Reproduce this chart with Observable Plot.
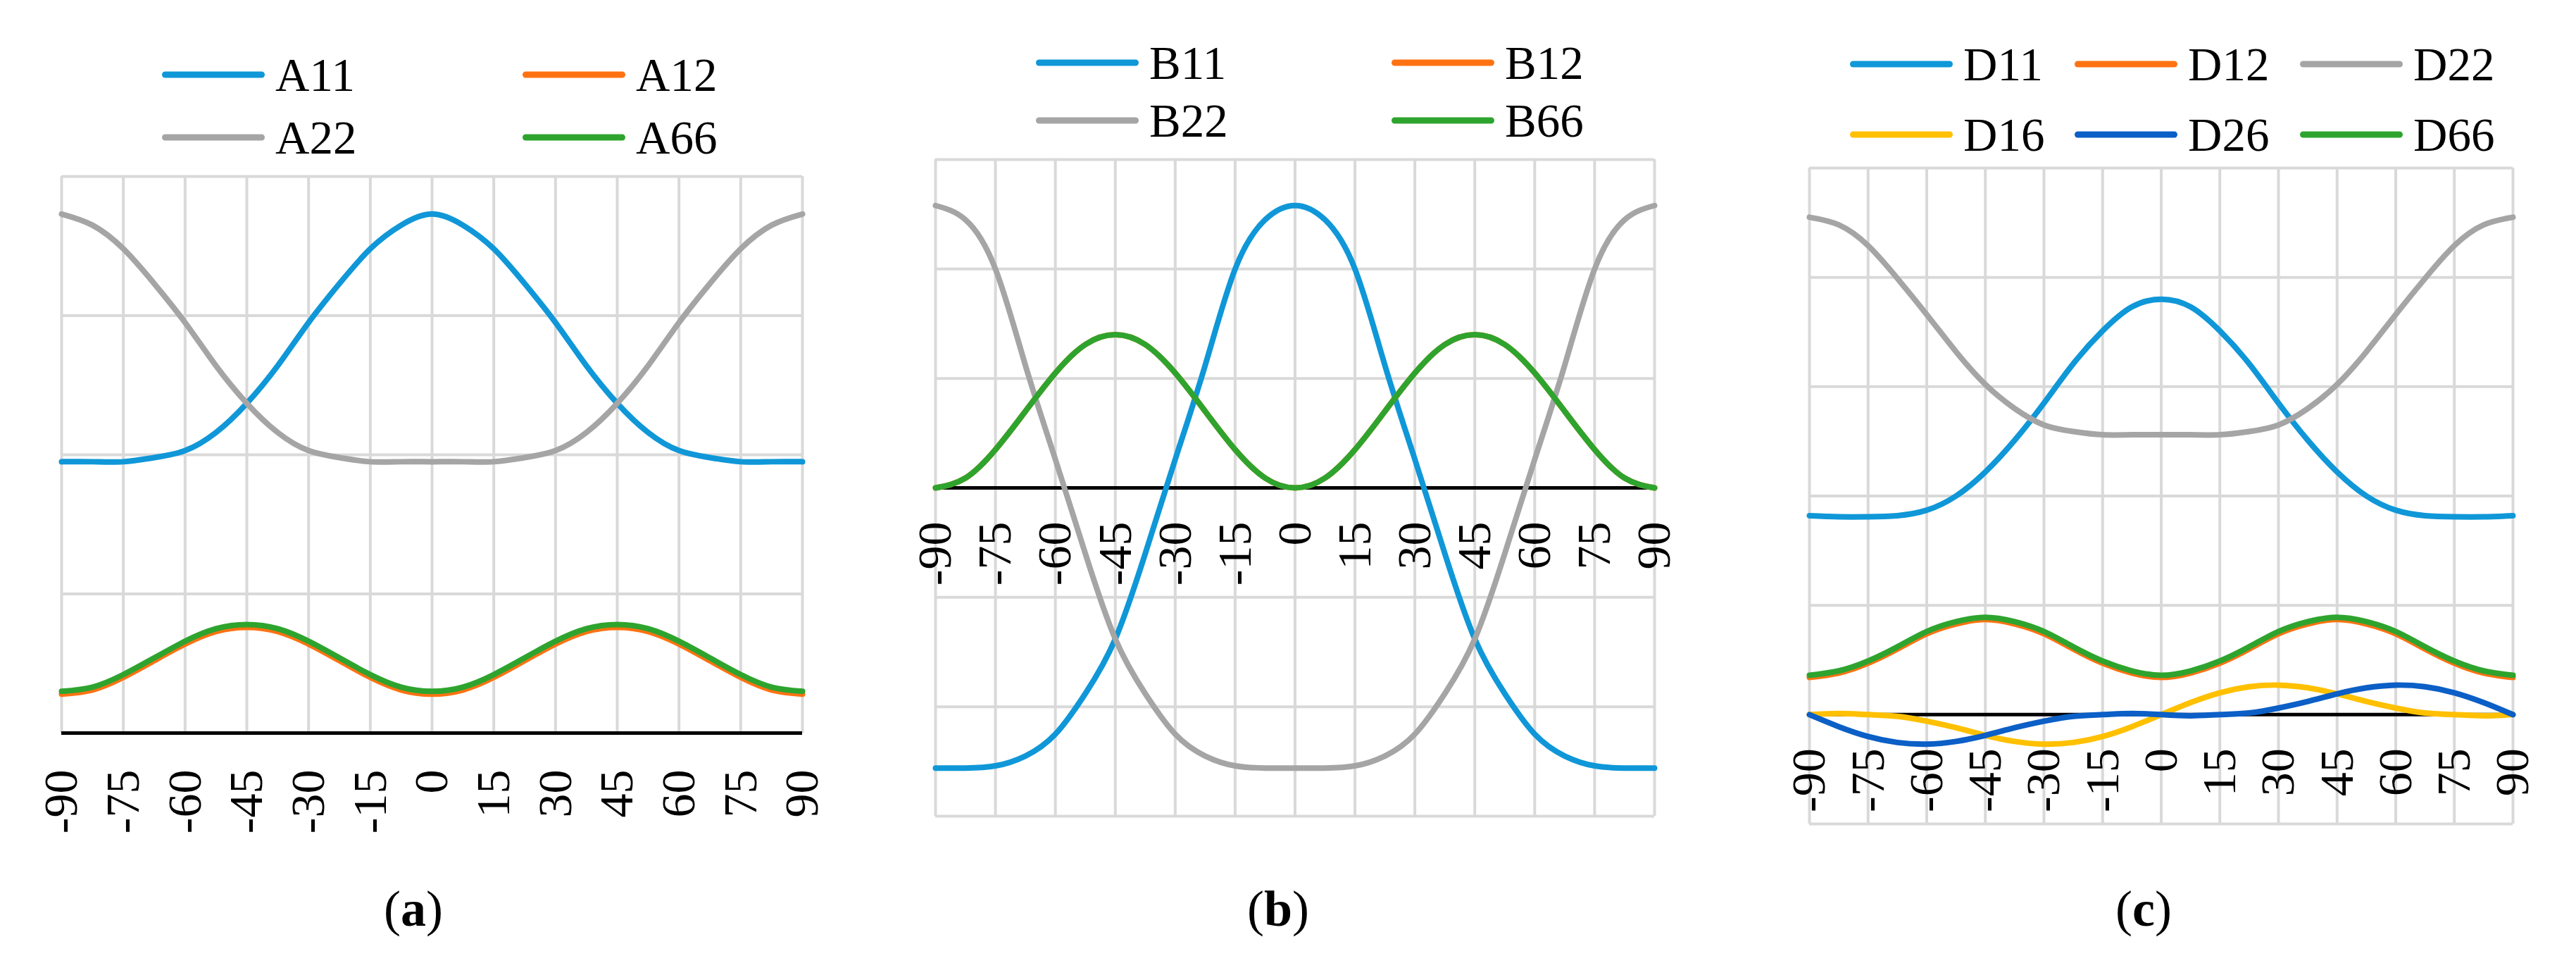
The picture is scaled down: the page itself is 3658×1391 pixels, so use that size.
<!DOCTYPE html>
<html><head><meta charset="utf-8">
<script src="https://cdn.jsdelivr.net/npm/d3@7"></script>
<script src="https://cdn.jsdelivr.net/npm/@observablehq/plot@0.6"></script>
<style>
body{margin:0;background:#fff;}
#wrap{position:relative;width:3658px;height:1391px;background:#fff;overflow:hidden;font-family:"Liberation Serif","DejaVu Serif",serif;color:#000;}
.panel{position:absolute;top:220px;}
.leg{position:absolute;display:flex;align-items:center;font-size:67px;line-height:1;white-space:nowrap;transform:translateY(-50%);}
.leg .sw{display:inline-block;width:146px;height:9px;border-radius:5px;margin-right:15px;}
.cap{position:absolute;font-size:72px;line-height:1;transform:translate(-50%,-50%);white-space:nowrap;}
</style></head><body><div id="wrap"></div>
<script>
// ---- data ----
const angles = [-90,-82.5,-75,-67.5,-60,-52.5,-45,-37.5,-30,-22.5,-15,-7.5,0,7.5,15,22.5,30,37.5,45,52.5,60,67.5,75,82.5,90];
const xTicks = [-90,-75,-60,-45,-30,-15,0,15,30,45,60,75,90];

const A11 = [1.95,1.95,1.95,1.98,2.03,2.16,2.37,2.64,2.95,3.23,3.48,3.65,3.73,3.65,3.48,3.23,2.95,2.64,2.37,2.16,2.03,1.98,1.95,1.95,1.95];
const A12 = [0.28,0.31,0.40,0.52,0.64,0.73,0.76,0.73,0.64,0.52,0.40,0.31,0.28,0.31,0.40,0.52,0.64,0.73,0.76,0.73,0.64,0.52,0.40,0.31,0.28];
const A22 = [3.73,3.65,3.48,3.23,2.95,2.64,2.37,2.16,2.03,1.98,1.95,1.95,1.95,1.95,1.95,1.98,2.03,2.16,2.37,2.64,2.95,3.23,3.48,3.65,3.73];
const A66 = [0.30,0.33,0.42,0.54,0.66,0.75,0.78,0.75,0.66,0.54,0.42,0.33,0.30,0.33,0.42,0.54,0.66,0.75,0.78,0.75,0.66,0.54,0.42,0.33,0.30];

const B11 = [-2.56,-2.56,-2.54,-2.45,-2.25,-1.88,-1.38,-0.60,0.26,1.12,2.00,2.45,2.58,2.45,2.00,1.12,0.26,-0.60,-1.38,-1.88,-2.25,-2.45,-2.54,-2.56,-2.56];
const B12 = [0,0.09,0.35,0.70,1.05,1.31,1.40,1.31,1.05,0.70,0.35,0.09,0,0.09,0.35,0.70,1.05,1.31,1.40,1.31,1.05,0.70,0.35,0.09,0];
const B22 = [2.58,2.45,2.00,1.12,0.26,-0.60,-1.38,-1.88,-2.25,-2.45,-2.54,-2.56,-2.56,-2.56,-2.54,-2.45,-2.25,-1.88,-1.38,-0.60,0.26,1.12,2.00,2.45,2.58];
const B66 = [0,0.09,0.35,0.70,1.05,1.31,1.40,1.31,1.05,0.70,0.35,0.09,0,0.09,0.35,0.70,1.05,1.31,1.40,1.31,1.05,0.70,0.35,0.09,0];

const D11 = [1.82,1.81,1.81,1.82,1.87,2.00,2.22,2.51,2.85,3.21,3.51,3.73,3.80,3.73,3.51,3.21,2.85,2.51,2.22,2.00,1.87,1.82,1.81,1.81,1.82];
const D12 = [0.34,0.38,0.47,0.60,0.74,0.83,0.87,0.83,0.74,0.60,0.47,0.38,0.34,0.38,0.47,0.60,0.74,0.83,0.87,0.83,0.74,0.60,0.47,0.38,0.34];
const D22 = [4.55,4.48,4.29,3.99,3.66,3.32,3.02,2.80,2.65,2.59,2.56,2.56,2.56,2.56,2.56,2.59,2.65,2.80,3.02,3.32,3.66,3.99,4.29,4.48,4.55];
const D16 = [0,0.01,0,-0.015,-0.06,-0.12,-0.19,-0.245,-0.27,-0.255,-0.20,-0.11,0,0.11,0.20,0.255,0.27,0.245,0.19,0.12,0.06,0.015,0,-0.01,0];
const D26 = [0,-0.11,-0.20,-0.255,-0.27,-0.245,-0.19,-0.12,-0.06,-0.015,0,0.01,0,-0.01,0,0.015,0.06,0.12,0.19,0.245,0.27,0.255,0.20,0.11,0];
const D66 = [0.36,0.40,0.49,0.62,0.76,0.85,0.89,0.85,0.76,0.62,0.49,0.40,0.36,0.40,0.49,0.62,0.76,0.85,0.89,0.85,0.76,0.62,0.49,0.40,0.36];

const colors = {c11:"#0f97d8", c12:"#ff7212", c22:"#a5a5a5", c16:"#ffc000", c26:"#0b5fc6", c66:"#2ea42e"};

// ---- layout ----
const wrap = document.getElementById("wrap");
const FONT = '"Liberation Serif","DejaVu Serif",serif';

function panel(cfg) {
  const [y0, y1] = cfg.yDomain;
  const yGrid = d3.range(y0, y1 + 1);
  const marks = [
    Plot.ruleX(xTicks, {x: d => d, y1: y0, y2: y1, stroke: "#d9d9d9", strokeWidth: 4}),
    Plot.ruleY(yGrid, {y: d => d, x1: -90, x2: 90, stroke: "#d9d9d9", strokeWidth: 4}),
    Plot.ruleY([0], {y: d => d, x1: -90, x2: 90, stroke: "#000", strokeWidth: 5}),
    Plot.text(xTicks, {x: d => d, y: () => 0, text: d => String(d), rotate: -90, textAnchor: "end",
      dy: cfg.labelDy, fontSize: 68, fontFamily: FONT, fill: "#000"})
  ];
  for (const s of cfg.series) {
    const rows = angles.map((a, i) => ({angle: a, value: s.values[i]}));
    marks.push(Plot.line(rows, {x: "angle", y: "value", stroke: s.color, strokeWidth: 8,
      curve: "natural", strokeLinecap: "round", strokeLinejoin: "round"}));
  }
  const chart = Plot.plot({
    width: 1200, height: 995,
    marginLeft: cfg.m[0], marginRight: cfg.m[1], marginTop: cfg.m[2], marginBottom: cfg.m[3],
    x: {domain: [-90, 90], axis: null},
    y: {domain: cfg.yDomain, axis: null},
    style: {background: "transparent", overflow: "visible"},
    marks
  });
  chart.classList.add("panel");
  chart.style.left = cfg.left + "px";
  wrap.appendChild(chart);

  cfg.legend.forEach(it => {
    const d = document.createElement("div");
    d.className = "leg";
    d.style.left = it.x + "px";
    d.style.top = it.y + "px";
    d.innerHTML = `<span class="sw" style="background:${it.color}"></span><span>${it.name}</span>`;
    wrap.appendChild(d);
  });
  const c = document.createElement("div");
  c.className = "cap";
  c.style.left = cfg.cap[0] + "px";
  c.style.top = cfg.cap[1] + "px";
  c.innerHTML = `(<b>${cfg.letter}</b>)`;
  wrap.appendChild(c);
}

panel({
  left: 0, yDomain: [0, 4], m: [87, 61, 30, 175], labelDy: 52, letter: "a", cap: [587, 1290],
  series: [
    {values: A11, color: colors.c11}, {values: A12, color: colors.c12},
    {values: A22, color: colors.c22}, {values: A66, color: colors.c66}
  ],
  legend: [
    {name: "A11", color: colors.c11, x: 230, y: 106}, {name: "A12", color: colors.c12, x: 742, y: 106},
    {name: "A22", color: colors.c22, x: 230, y: 195}, {name: "A66", color: colors.c66, x: 742, y: 195}
  ]
});

panel({
  left: 1220, yDomain: [-3, 3], m: [108, 71, 6, 57], labelDy: 48, letter: "b", cap: [1815, 1290],
  series: [
    {values: B11, color: colors.c11}, {values: B12, color: colors.c12},
    {values: B22, color: colors.c22}, {values: B66, color: colors.c66}
  ],
  legend: [
    {name: "B11", color: colors.c11, x: 1471, y: 89}, {name: "B12", color: colors.c12, x: 1976, y: 89},
    {name: "B22", color: colors.c22, x: 1471, y: 171}, {name: "B66", color: colors.c66, x: 1976, y: 171}
  ]
});

panel({
  left: 2458, yDomain: [-1, 5], m: [111, 90, 18, 46], labelDy: 48, letter: "c", cap: [3044, 1290],
  series: [
    {values: D11, color: colors.c11}, {values: D12, color: colors.c12},
    {values: D22, color: colors.c22}, {values: D16, color: colors.c16},
    {values: D26, color: colors.c26}, {values: D66, color: colors.c66}
  ],
  legend: [
    {name: "D11", color: colors.c11, x: 2627, y: 91}, {name: "D12", color: colors.c12, x: 2946, y: 91},
    {name: "D22", color: colors.c22, x: 3266, y: 91},
    {name: "D16", color: colors.c16, x: 2627, y: 191}, {name: "D26", color: colors.c26, x: 2946, y: 191},
    {name: "D66", color: colors.c66, x: 3266, y: 191}
  ]
});
</script></body></html>
